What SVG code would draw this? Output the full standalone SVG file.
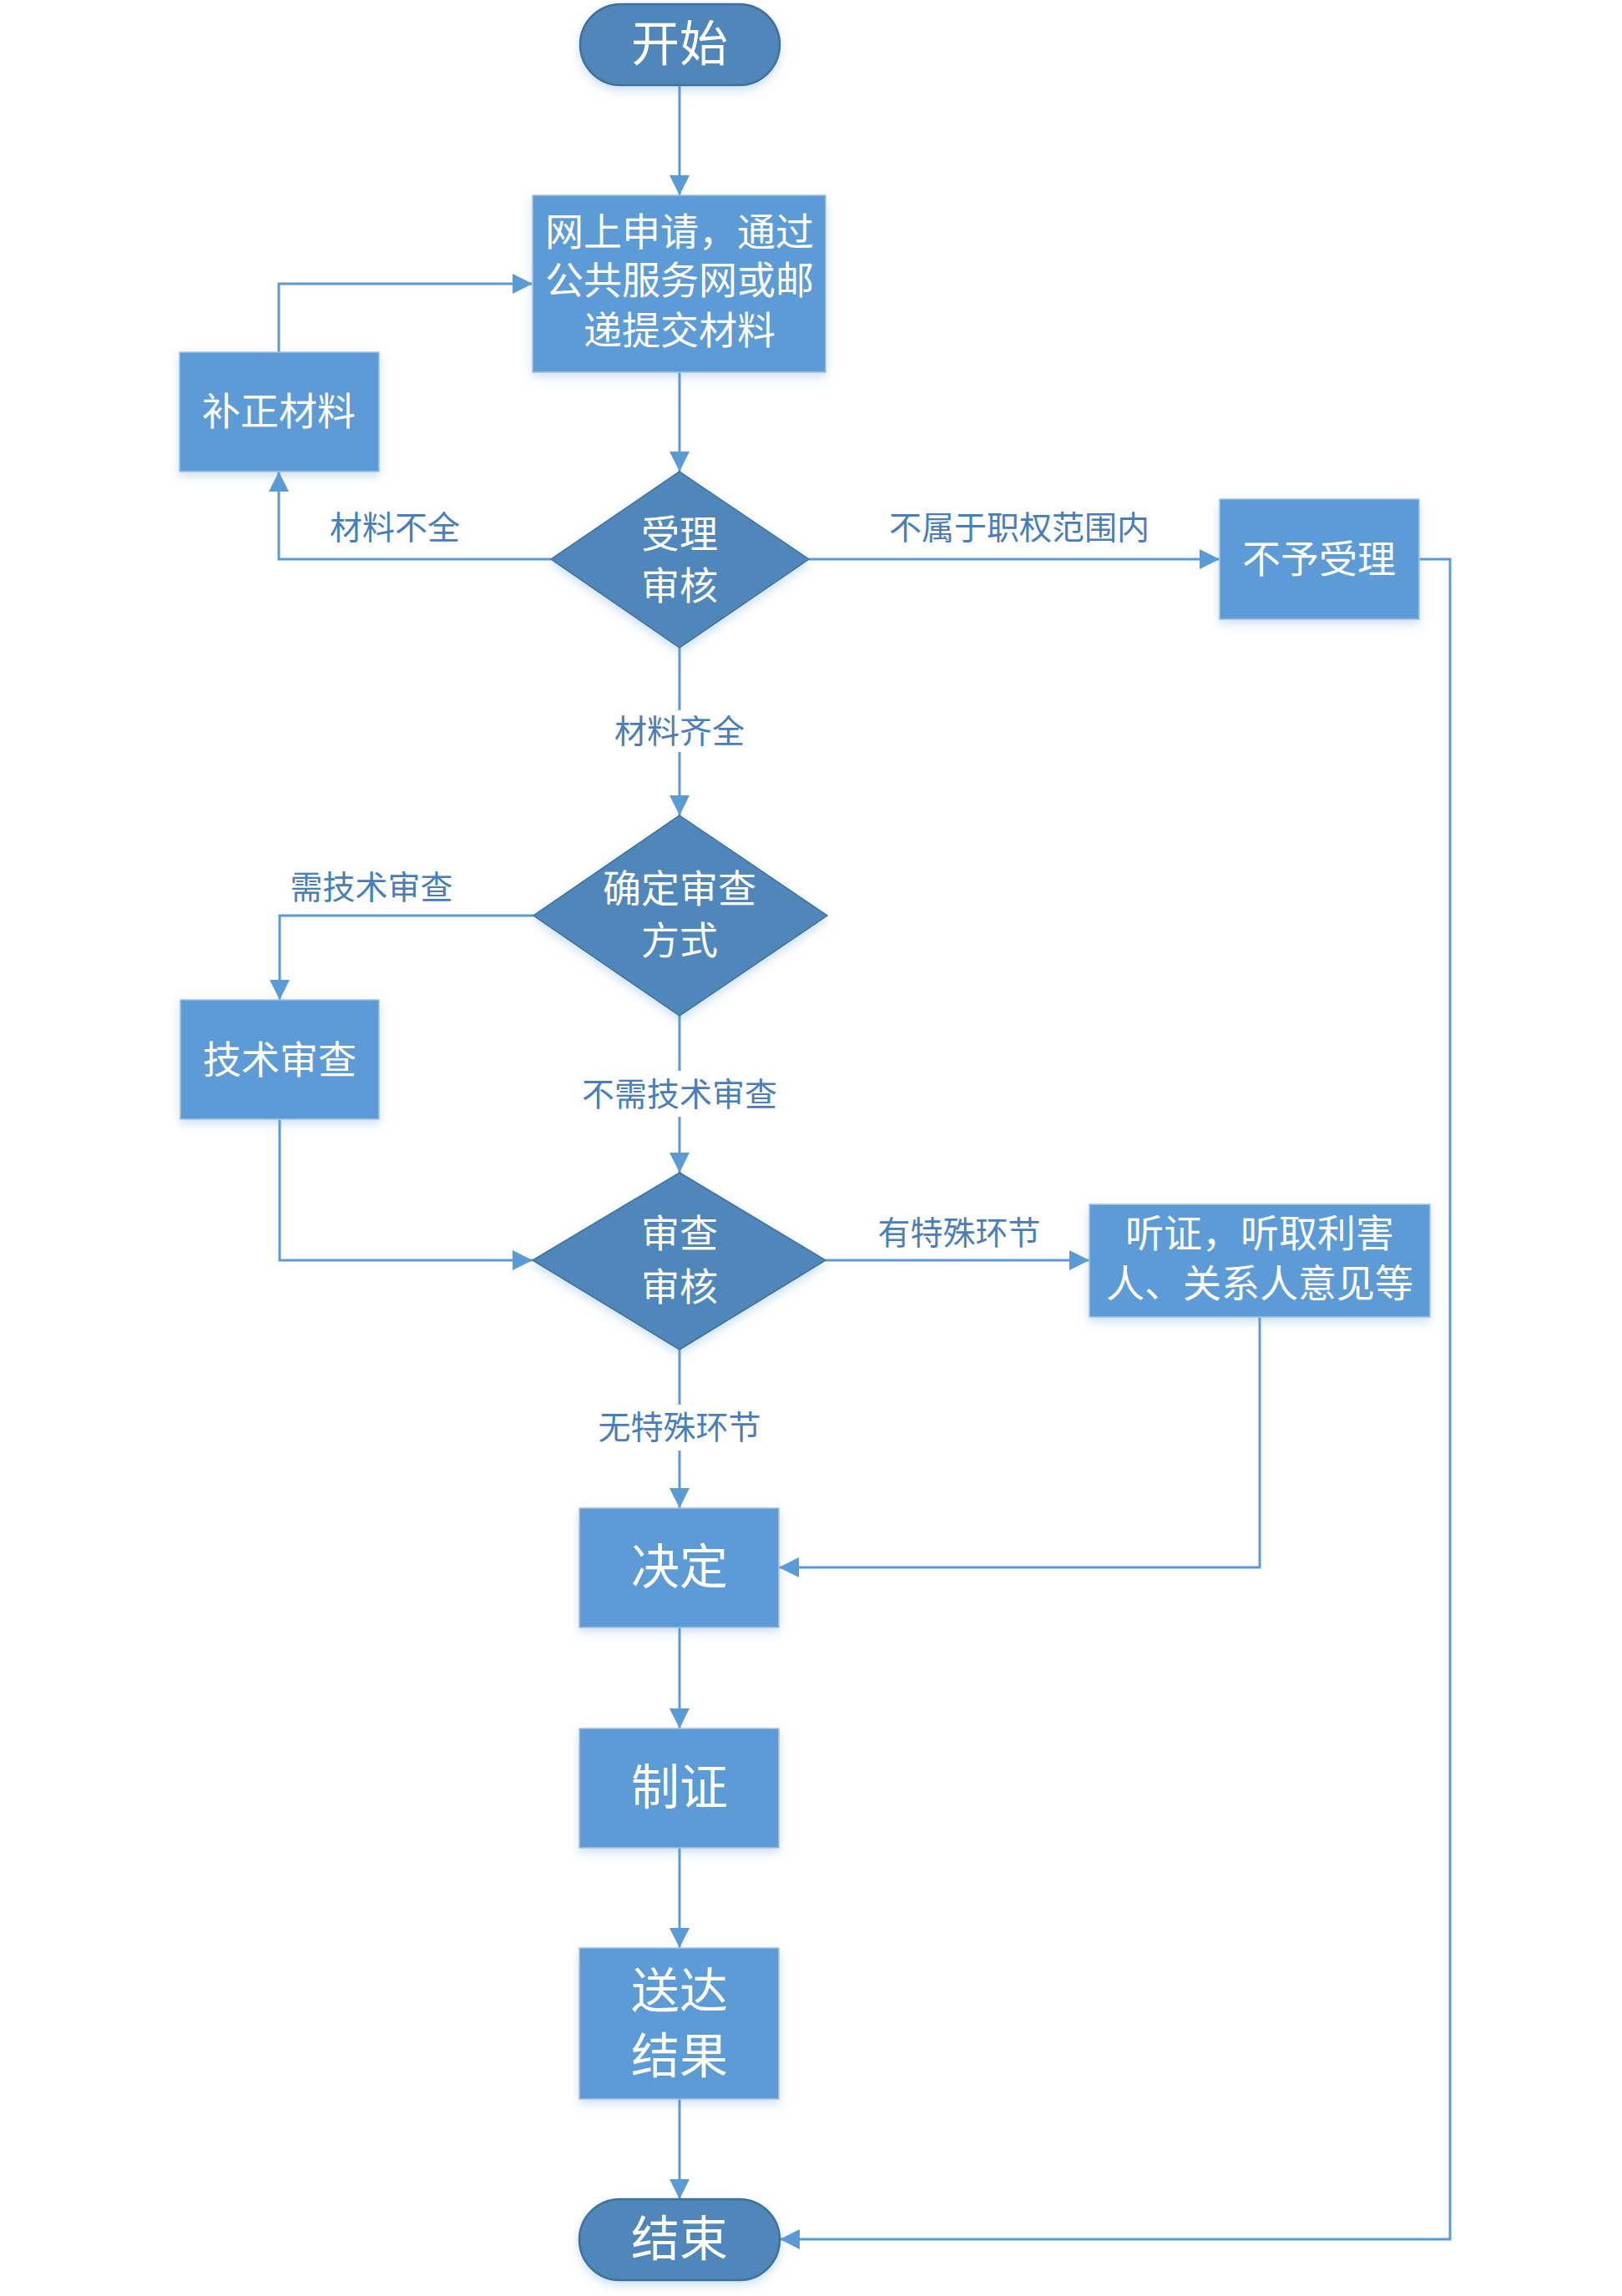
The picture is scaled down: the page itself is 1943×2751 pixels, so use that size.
<svg xmlns="http://www.w3.org/2000/svg" width="1943" height="2751" viewBox="0 0 1943 2751">
<style>
.box{fill:#5B9BD5;stroke:#A9C2DC;stroke-width:1.5;filter:url(#sh)}
.dia{fill:#4F87BA;stroke:#41719C;stroke-width:1.5;filter:url(#sh)}
.term{fill:#4F87BA;stroke:#41719C;stroke-width:2.5;filter:url(#sh)}
.t{font-family:"Noto Sans CJK SC","Noto Sans",sans-serif;fill:#FFFFFF;text-anchor:middle;dominant-baseline:central;font-size:46px}
.big{font-size:58px}
.lbl{font-family:"Noto Sans CJK SC","Noto Sans",sans-serif;fill:#4A7EBB;text-anchor:middle;dominant-baseline:central;font-size:39px}
.c{fill:none;stroke:#5B9BD5;stroke-width:3;marker-end:url(#ah)}
</style>
<defs>
<filter id="sh" x="-20%" y="-20%" width="140%" height="150%">
<feDropShadow dx="0" dy="5" stdDeviation="6" flood-color="#5B9BD5" flood-opacity="0.3"/>
</filter>
<marker id="ah" markerUnits="userSpaceOnUse" markerWidth="24" markerHeight="24" refX="24" refY="12" orient="auto">
<path d="M0,0 L24,12 L0,24 Z" fill="#5B9BD5"/>
</marker>
</defs>
<rect width="1943" height="2751" fill="#FFFFFF"/>
<g id="connectors">
<path class="c" d="M814,102 V234"/>
<path class="c" d="M814,446 V565"/>
<path class="c" d="M660,670 H334 V565"/>
<path class="c" d="M334,422 V340 H638"/>
<path class="c" d="M969,670 H1461"/>
<path class="c" d="M1700,670 H1737 V2683 H934"/>
<path class="c" d="M814,776 V851 M814,901 V977"/>
<path class="c" d="M639,1097 H335 V1198"/>
<path class="c" d="M814,1217 V1283 M814,1338 V1405"/>
<path class="c" d="M335,1341 V1510 H638"/>
<path class="c" d="M989,1510 H1305"/>
<path class="c" d="M814,1617 V1683 M814,1738 V1807"/>
<path class="c" d="M1509,1578 V1878 H933"/>
<path class="c" d="M814,1950 V2071"/>
<path class="c" d="M814,2214 V2334"/>
<path class="c" d="M814,2515 V2635"/>
<text class="lbl" x="473" y="629">材料不全</text>
<text class="lbl" x="1221" y="629">不属于职权范围内</text>
<text class="lbl" x="814" y="873">材料齐全</text>
<text class="lbl" x="445" y="1060">需技术审查</text>
<text class="lbl" x="814" y="1308">不需技术审查</text>
<text class="lbl" x="1149" y="1474">有特殊环节</text>
<text class="lbl" x="814" y="1707">无特殊环节</text>
</g>
<g id="start">
<rect class="term" x="695" y="5" width="239" height="97" rx="48.5"/>
<text class="t big" x="814" y="48">开始</text>
</g>
<g id="apply">
<rect class="box" x="638" y="234" width="351" height="212"/>
<text class="t" x="814" y="274">网上申请，通过</text>
<text class="t" x="814" y="332">公共服务网或邮</text>
<text class="t" x="814" y="392">递提交材料</text>
</g>
<g id="accept">
<polygon class="dia" points="814,565 969,670 814,776 660,670"/>
<text class="t" x="814" y="636">受理</text>
<text class="t" x="814" y="698">审核</text>
</g>
<g id="fix">
<rect class="box" x="215" y="422" width="239" height="143"/>
<text class="t" x="334" y="489">补正材料</text>
</g>
<g id="reject">
<rect class="box" x="1461" y="598" width="239" height="144"/>
<text class="t" x="1580" y="666">不予受理</text>
</g>
<g id="method">
<polygon class="dia" points="814,977 991,1097 814,1217 639,1097"/>
<text class="t" x="814" y="1061">确定审查</text>
<text class="t" x="814" y="1123">方式</text>
</g>
<g id="tech">
<rect class="box" x="216" y="1198" width="238" height="143"/>
<text class="t" x="335" y="1266">技术审查</text>
</g>
<g id="review">
<polygon class="dia" points="814,1405 989,1510 814,1617 638,1510"/>
<text class="t" x="814" y="1474">审查</text>
<text class="t" x="814" y="1538">审核</text>
</g>
<g id="hearing">
<rect class="box" x="1305" y="1443" width="408" height="135"/>
<text class="t" x="1509" y="1474">听证，听取利害</text>
<text class="t" x="1509" y="1534">人、关系人意见等</text>
</g>
<g id="decide">
<rect class="box" x="694" y="1807" width="239" height="143"/>
<text class="t big" x="814" y="1873">决定</text>
</g>
<g id="cert">
<rect class="box" x="694" y="2071" width="239" height="143"/>
<text class="t big" x="814" y="2137">制证</text>
</g>
<g id="deliver">
<rect class="box" x="694" y="2334" width="239" height="181"/>
<text class="t big" x="814" y="2381">送达</text>
<text class="t big" x="814" y="2459">结果</text>
</g>
<g id="end">
<rect class="term" x="694" y="2635" width="240" height="97" rx="48.5"/>
<text class="t big" x="814" y="2678">结束</text>
</g>
</svg>
